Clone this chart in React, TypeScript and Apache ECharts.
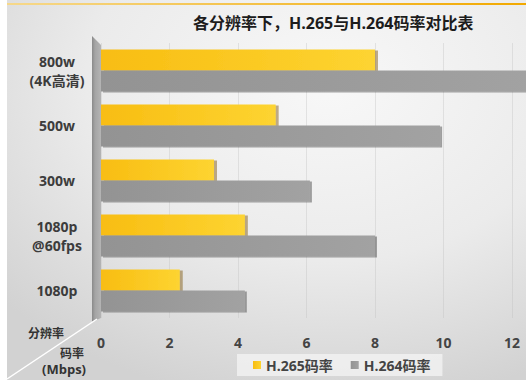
import React, { useEffect, useRef } from "react";
import * as echarts from "echarts";

const categories = ["800w\n(4K高清)", "500w", "300w", "1080p\n@60fps", "1080p"];
const h265Values = [8.0, 5.1, 3.3, 4.2, 2.3];
const h264Values = [12.6, 9.9, 6.1, 8.0, 4.2];
const seriesNames = ["H.265码率", "H.264码率"];
const titleText = "各分辨率下，H.265与H.264码率对比表";

const FONT = "'Open Sans', 'Noto Sans CJK SC', sans-serif";

export default function App() {
  const ref = useRef<HTMLDivElement>(null);
  useEffect(() => {
    if (!ref.current) return;
    const chart = echarts.init(ref.current, null, { renderer: "svg" });
    const yellow = new echarts.graphic.LinearGradient(0, 0, 1, 0, [
      { offset: 0, color: "#f8bd12" },
      { offset: 1, color: "#fdd431" },
    ]);
    const gray = new echarts.graphic.LinearGradient(0, 0, 1, 0, [
      { offset: 0, color: "#939393" },
      { offset: 1, color: "#a2a2a2" },
    ]);
    chart.setOption({
      animation: false,
      title: {
        text: titleText,
        left: 188,
        top: 10,
        textStyle: { fontSize: 16, fontWeight: "bold", color: "#1c1c1c", fontFamily: FONT },
      },
      legend: {
        data: seriesNames,
        left: 237,
        top: 354,
        icon: "rect",
        itemWidth: 8,
        itemHeight: 8,
        itemGap: 18,
        padding: [4, 12, 4, 16],
        backgroundColor: "rgba(240,240,240,0.9)",
        textStyle: { fontSize: 14, fontWeight: "bold", color: "#444", fontFamily: FONT },
      },
      grid: { left: 101, right: 14, top: 43, bottom: 70, containLabel: false },
      xAxis: {
        type: "value",
        min: 0,
        max: 12,
        interval: 2,
        axisLine: { show: false },
        axisTick: { show: false },
        axisLabel: { margin: 17, fontSize: 14, fontWeight: "bold", color: "#444", fontFamily: FONT },
        splitLine: { show: true, lineStyle: { color: "rgba(190,190,190,0.35)", width: 1 } },
      },
      yAxis: {
        type: "category",
        data: categories,
        inverse: true,
        axisLine: { show: false },
        axisTick: { show: false },
        axisLabel: {
          margin: 44,
          align: "center",
          fontSize: 14,
          lineHeight: 19,
          fontWeight: "bold",
          color: "#3c3c3c",
          fontFamily: FONT,
        },
      },
      series: [
        {
          name: seriesNames[0],
          type: "bar",
          data: h265Values,
          barWidth: 21,
          barGap: "0%",
          clip: false,
          itemStyle: {
            color: yellow,
            shadowColor: "rgba(120,80,0,0.45)",
            shadowOffsetX: 3,
            shadowOffsetY: 1,
            shadowBlur: 0,
          },
        },
        {
          name: seriesNames[1],
          type: "bar",
          data: h264Values,
          barWidth: 21,
          barGap: "0%",
          clip: false,
          itemStyle: {
            color: gray,
            shadowColor: "rgba(60,60,60,0.45)",
            shadowOffsetX: 2,
            shadowOffsetY: 1,
            shadowBlur: 0,
          },
        },
      ],
      color: ["#fac51c", "#999999"],
      graphic: [
        {
          type: "rect",
          z: -10,
          silent: true,
          shape: { x: 0, y: 0, width: 526, height: 388 },
          style: { fill: "#ffffff" },
        },
        {
          type: "rect",
          z: -9,
          silent: true,
          shape: { x: 7, y: 0, width: 519, height: 380 },
          style: {
            fill: new echarts.graphic.RadialGradient(0.62, 0.22, 0.85, [
              { offset: 0, color: "#f8f8f8" },
              { offset: 0.55, color: "#ebebeb" },
              { offset: 1, color: "#d2d2d2" },
            ]),
          },
        },
        {
          type: "rect",
          z: -8,
          silent: true,
          shape: { x: 7, y: 3, width: 519, height: 2 },
          style: {
            fill: new echarts.graphic.LinearGradient(0, 0, 1, 0, [
              { offset: 0, color: "#f6d88a" },
              { offset: 1, color: "#f2a900" },
            ]),
          },
        },
        {
          type: "polygon",
          z: -5,
          silent: true,
          shape: { points: [[92, 36], [101, 45], [101, 318], [92, 322]] },
          style: {
            fill: new echarts.graphic.LinearGradient(0, 0, 1, 0, [
              { offset: 0, color: "#8a8a8a" },
              { offset: 0.35, color: "#a5a5a5" },
              { offset: 1, color: "#b4b4b4" },
            ]),
          },
        },
        {
          type: "line",
          z: -5,
          silent: true,
          shape: { x1: 97, y1: 319, x2: 7, y2: 379 },
          style: { stroke: "#ffffff", lineWidth: 1.5 },
        },
        {
          type: "text",
          z: 5,
          silent: true,
          style: {
            text: "分辨率",
            x: 46,
            y: 333,
            align: "center",
            verticalAlign: "middle",
            fontSize: 12,
            fontWeight: "bold",
            fill: "#333",
            fontFamily: FONT,
          },
        },
        {
          type: "text",
          z: 5,
          silent: true,
          style: {
            text: "码率",
            x: 84,
            y: 353,
            align: "right",
            verticalAlign: "middle",
            fontSize: 12,
            fontWeight: "bold",
            fill: "#333",
            fontFamily: FONT,
          },
        },
        {
          type: "text",
          z: 5,
          silent: true,
          style: {
            text: "(Mbps)",
            x: 86,
            y: 369,
            align: "right",
            verticalAlign: "middle",
            fontSize: 13,
            fontWeight: "bold",
            fill: "#333",
            fontFamily: FONT,
          },
        },
      ],
    });
    return () => chart.dispose();
  }, []);
  return (
    <div
      ref={ref}
      style={{ position: "absolute", left: 0, top: 0, width: 526, height: 388 }}
    />
  );
}
